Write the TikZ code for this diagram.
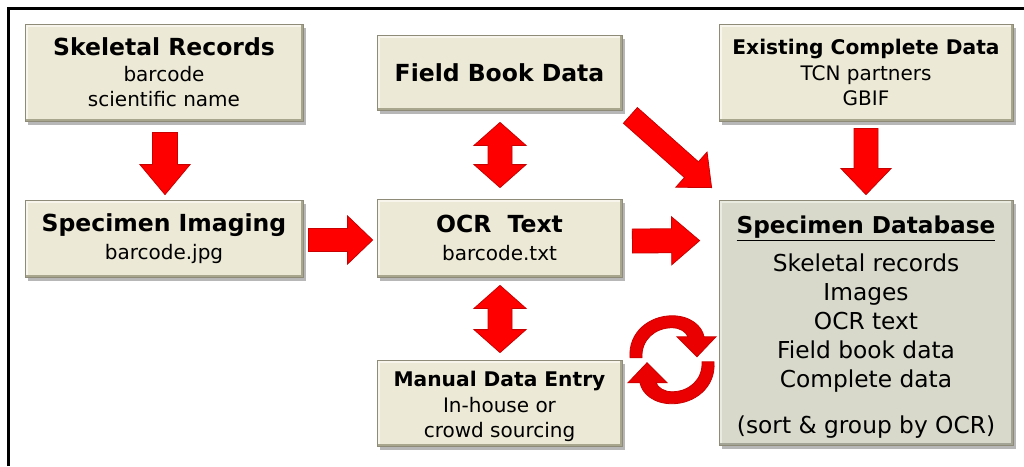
\documentclass[tikz,border=0pt]{standalone}
\usepackage{fontspec}
\setmainfont{DejaVu Sans}
\usetikzlibrary{calc,shadows}
\definecolor{boxfill}{HTML}{ECE9D6}
\definecolor{dbfill}{HTML}{D8D9CB}
\definecolor{boxedge}{HTML}{8E8C78}
\definecolor{bevlight}{HTML}{F8F6EC}
\definecolor{bevdark}{HTML}{A9A68E}
\definecolor{dblight}{HTML}{E9EAE0}
\definecolor{dbdark}{HTML}{A3A496}
\definecolor{arrred}{HTML}{FF0000}
\definecolor{arredge}{HTML}{C80000}
\definecolor{cycred}{HTML}{EA0000}
\newcommand{\bigb}{\bfseries\fontsize{23.5}{25.5}\selectfont}
\newcommand{\smallb}{\bfseries\fontsize{20.2}{25.5}\selectfont}
\newcommand{\fatarrow}[5]{%
  \coordinate (fa-s) at (#1); \coordinate (fa-e) at (#2);
  \coordinate (fa-h) at ($(fa-e)!#5!(fa-s)$);
  \filldraw[fatarrow] ($(fa-s)!#3!90:(fa-e)$) -- ($(fa-h)!#3!-90:(fa-s)$) -- ($(fa-h)!#4!-90:(fa-s)$) -- (fa-e) -- ($(fa-h)!#4!90:(fa-s)$) -- ($(fa-h)!#3!90:(fa-s)$) -- ($(fa-s)!#3!-90:(fa-e)$) -- cycle;}
\newcommand{\dblarrow}[5]{%
  \coordinate (da-s) at (#1); \coordinate (da-e) at (#2);
  \coordinate (da-a) at ($(da-s)!#5!(da-e)$);
  \coordinate (da-b) at ($(da-e)!#5!(da-s)$);
  \filldraw[fatarrow] (da-s) -- ($(da-a)!#4!90:(da-e)$) -- ($(da-a)!#3!90:(da-e)$) -- ($(da-b)!#3!-90:(da-s)$) -- ($(da-b)!#4!-90:(da-s)$) -- (da-e) -- ($(da-b)!#4!90:(da-s)$) -- ($(da-b)!#3!90:(da-s)$) -- ($(da-a)!#3!-90:(da-e)$) -- ($(da-a)!#4!-90:(da-e)$) -- cycle;}
\tikzset{
  fatarrow/.style={fill=arrred, draw=arredge, line width=0.8pt, line join=miter},
  cycarrow/.style={fill=cycred, draw=arredge, line width=0.8pt, line join=miter},
  box/.style={draw=boxedge, line width=0.8pt, fill=boxfill, inner sep=0pt, align=center,
    font=\fontsize{20}{25.5}\selectfont,
    drop shadow={shadow xshift=2.5pt, shadow yshift=-3.5pt, opacity=0.4, fill=black!70},
    path picture={
      \draw[bevlight, line width=5pt] (path picture bounding box.south west) -- (path picture bounding box.north west) -- (path picture bounding box.north east);
      \draw[bevdark, line width=5pt] (path picture bounding box.south west) -- (path picture bounding box.south east) -- (path picture bounding box.north east);
    }},
  dbbox/.style={box, fill=dbfill, font=\fontsize{23.3}{29}\selectfont,
    path picture={
      \draw[dblight, line width=5pt] (path picture bounding box.south west) -- (path picture bounding box.north west) -- (path picture bounding box.north east);
      \draw[dbdark, line width=5pt] (path picture bounding box.south west) -- (path picture bounding box.south east) -- (path picture bounding box.north east);
    }}
}
\begin{document}
\begin{tikzpicture}[x=1pt,y=-1pt]
\useasboundingbox (0,0) rectangle (1024,466);
\draw[line width=2.6pt] (8.5,466) -- (8.5,8.7) -- (1024,8.7);

\node[box, minimum width=278pt, minimum height=97pt] (sk) at (164,72.5)
  {{\bigb Skeletal Records}\\barcode\\scientific name};
\node[box, minimum width=278pt, minimum height=77pt] (si) at (164,238.5)
  {{\bigb Specimen Imaging}\\[2.5pt]barcode.jpg};
\node[box, minimum width=245pt, minimum height=75pt] (fb) at (499.5,72.5)
  {\bigb Field Book Data};
\node[box, minimum width=245pt, minimum height=78pt] (ocr) at (499.5,238)
  {{\bigb OCR\ \ Text}\\[2.5pt]barcode.txt};
\node[box, minimum width=245pt, minimum height=86pt] (man) at (499.5,403)
  {\rule{0pt}{23pt}{\smallb Manual Data Entry}\\In-house or\\crowd sourcing};
\node[box, minimum width=294pt, minimum height=97pt] (ex) at (866,72.5)
  {{\smallb Existing Complete Data}\\TCN partners\\GBIF};
\node[dbbox, minimum width=294pt, minimum height=245pt] (db) at (866,322.5)
  {\rule{0pt}{27pt}{\bfseries\fontsize{23.2}{29}\selectfont\underline{Specimen Database}}\\[9pt]Skeletal records\\Images\\OCR text\\Field book data\\Complete data\\[17pt](sort \& group by OCR)};

\fatarrow{$(sk.south)+(1,11)$}{$(si.north)+(1,-5)$}{12.5pt}{25pt}{30pt}
\fatarrow{$(si.east)+(5,1.5)$}{$(ocr.west)+(-4,2)$}{11.5pt}{24pt}{25pt}
\fatarrow{$(ocr.east)+(10,3)$}{$(db.north west)+(-19,41)$}{12pt}{24pt}{28pt}
\fatarrow{$(ex.south)+(0,7)$}{$(db.north)+(0,-5)$}{12pt}{25pt}{26pt}
\fatarrow{$(fb.south east)+(8,5)$}{$(db.north west)+(-7,-12)$}{10.5pt}{23.5pt}{27pt}
\dblarrow{$(fb.south)+(0.5,12)$}{$(ocr.north)+(0.5,-11)$}{12pt}{26pt}{23pt}
\dblarrow{$(ocr.south)+(0.5,8)$}{$(man.north)+(0.5,-7)$}{12pt}{26pt}{23pt}

\coordinate (cyc) at ($(man.east)!0.5!(db.west)+(1.5,-3)$);
\begin{scope}[shift={(cyc)}]
\filldraw[cycarrow] (-42,-2) .. controls (-44,-28) and (-22,-44) .. (0,-44) .. controls (18,-44) and (30,-34) .. (32,-23) -- (44,-23) -- (25,-3) -- (5,-23) -- (16,-23) .. controls (14,-28) and (8,-32) .. (0,-32) .. controls (-17,-32) and (-31,-20) .. (-30,-2) -- cycle;
\filldraw[cycarrow] (42,2) .. controls (44,28) and (22,44) .. (0,44) .. controls (-18,44) and (-30,34) .. (-32,23) -- (-44,23) -- (-25,3) -- (-5,23) -- (-16,23) .. controls (-14,28) and (-8,32) .. (0,32) .. controls (17,32) and (31,20) .. (30,2) -- cycle;
\end{scope}
\end{tikzpicture}
\end{document}
